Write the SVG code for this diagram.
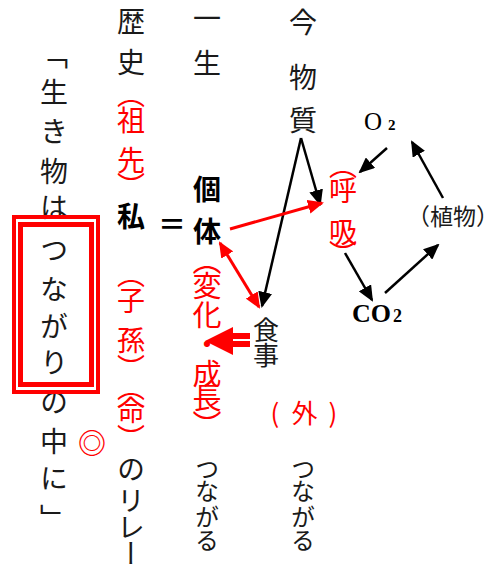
<svg xmlns="http://www.w3.org/2000/svg" width="500" height="574" viewBox="0 0 500 574">
<style>
text{font-family:"Noto Sans CJK JP","Noto Sans",sans-serif;fill:#1a1a1a;}
.v{writing-mode:vertical-rl;}
.r{fill:#ff0000;}
.b{font-weight:bold;fill:#000;}
.lat{font-family:"Liberation Serif",serif;fill:#000;}
.blk{stroke:#000;stroke-width:2.5;fill:none;}
.red{stroke:#ff0000;stroke-width:3;fill:none;}
</style>
<defs>
<marker id="ah" markerUnits="userSpaceOnUse" markerWidth="16" markerHeight="14" refX="14" refY="7" orient="auto"><path d="M0,0 L16,7 L0,14 z" fill="#000"/></marker>
<marker id="rh" markerUnits="userSpaceOnUse" markerWidth="16" markerHeight="14" refX="14" refY="7" orient="auto-start-reverse"><path d="M0,0 L16,7 L0,14 z" fill="#ff0000"/></marker>
</defs>
<rect width="500" height="574" fill="#fff"/>

<g id="col1">
<text class="v" x="54" font-size="28" y="41 78 117 157 193 236 275 312 348 388 427 464 504">﹁生き物はつながりの中に﹂</text>
</g>
<g id="tsunagari-box">
<rect x="14" y="217" width="84" height="175" fill="none" stroke="#ff0000" stroke-width="4"/>
<rect x="20.5" y="224.5" width="71" height="160" fill="none" stroke="#ff0000" stroke-width="5"/>
</g>
<g id="mark">
<text x="92" y="454" font-size="28" text-anchor="middle" class="r" font-weight="bold">◎</text>
</g>

<g id="col2">
<text class="v" x="131" font-size="28" y="7 48 80 106 146 172 202 260 286 326 354 373 396 424 455 486 513 539">歴史<tspan class="r">︵祖先︶</tspan><tspan class="b">私</tspan><tspan class="r">︵子孫︶︵命︶</tspan>のリレー</text>
</g>

<g id="equals">
<text x="172" y="234.5" font-size="28" text-anchor="middle" class="b">＝</text>
</g>

<g id="col3">
<text class="v" x="207" font-size="28" y="4 49">一生</text>
<text class="v b" x="207" font-size="28" y="175 217">個体</text>
<text class="v r" x="207" font-size="29" y="246 271.5 300.5 329.5 359.5 383.5 410">︵変化・成長︶</text>
<text class="v" x="207" font-size="24" y="457 479 505 528">つながる</text>
</g>

<g id="col4">
<text class="v" x="303" font-size="28" y="8 63 106">今物質</text>
<text class="r" font-size="26" x="275 304.5 333" y="423" text-anchor="middle">(外)</text>
<text class="v" x="303" font-size="24" y="457 479 505 528">つながる</text>
</g>

<g id="shokuji">
<text class="v" x="266" font-size="26" y="317 342">食事</text>
</g>

<g id="kokyu">
<text class="v r" x="343" font-size="28" y="151 176 218 240">︵呼吸︶</text>
</g>

<g id="o2">
<text class="lat" x="364" y="130" font-size="25">O<tspan x="388" font-size="15" font-weight="bold">2</tspan></text>
</g>
<g id="co2">
<text class="lat" x="352" y="322" font-size="26" font-weight="bold">CO<tspan x="393" font-size="18">2</tspan></text>
</g>
<g id="plant">
<text x="453" y="225" font-size="23" text-anchor="middle">（植物）</text>
</g>

<g id="connectors">
<line class="blk" x1="301" y1="138" x2="320" y2="204" marker-end="url(#ah)"/>
<line class="blk" x1="301" y1="138" x2="262" y2="306" marker-end="url(#ah)"/>
<line class="blk" x1="387" y1="148" x2="360" y2="172" marker-end="url(#ah)"/>
<line class="blk" x1="345" y1="253" x2="372" y2="300" marker-end="url(#ah)"/>
<line class="blk" x1="385" y1="293" x2="438" y2="245" marker-end="url(#ah)"/>
<line class="blk" x1="443" y1="198" x2="412" y2="142" marker-end="url(#ah)"/>
<line class="red" x1="230" y1="229" x2="322" y2="203" marker-end="url(#rh)"/>
<line class="red" x1="220" y1="243" x2="259" y2="307" marker-start="url(#rh)" marker-end="url(#rh)"/>
<g id="growth-arrow" fill="#ff0000">
<rect x="231" y="333" width="19" height="6"/>
<rect x="231" y="341" width="19" height="6"/>
<path d="M205,341 L233,327 L233,355 z"/>
</g>
</g>
</svg>
